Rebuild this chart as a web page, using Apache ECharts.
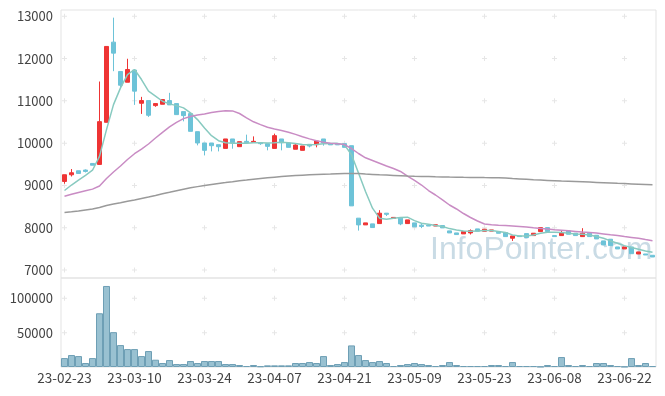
<!DOCTYPE html>
<html><head><meta charset="utf-8">
<script src="https://cdn.jsdelivr.net/npm/echarts@6/dist/echarts.min.js"></script>
<style>html,body{margin:0;padding:0;background:#fff}#c{width:665px;height:396px}</style>
</head><body><div id="c"></div>
<script>
const dates = [
'23-02-23','23-02-24','23-02-27','23-02-28',
'23-03-02','23-03-03','23-03-06','23-03-07','23-03-08','23-03-09','23-03-10','23-03-13','23-03-14','23-03-15','23-03-16','23-03-17','23-03-20','23-03-21','23-03-22','23-03-23','23-03-24','23-03-27','23-03-28','23-03-29','23-03-30','23-03-31',
'23-04-03','23-04-04','23-04-05','23-04-06','23-04-07','23-04-10','23-04-11','23-04-12','23-04-13','23-04-14','23-04-17','23-04-18','23-04-19','23-04-20','23-04-21','23-04-24','23-04-25','23-04-26','23-04-27','23-04-28',
'23-05-02','23-05-03','23-05-04','23-05-08','23-05-09','23-05-10','23-05-11','23-05-12','23-05-15','23-05-16','23-05-17','23-05-18','23-05-19','23-05-22','23-05-23','23-05-24','23-05-25','23-05-26','23-05-30','23-05-31',
'23-06-01','23-06-02','23-06-05','23-06-07','23-06-08','23-06-09','23-06-12','23-06-13','23-06-14','23-06-15','23-06-16','23-06-19','23-06-20','23-06-21','23-06-22','23-06-23','23-06-26','23-06-27','23-06-28'];

const opens = [9094,9252,9347,9364,9520,9497,10493,12389,11695,11441,11728,10943,11007,10888,10920,11007,10936,10746,10699,10272,
10004,10004,9964,9876,10099,9917,10043,10019,10011,9988,9876,10099,10003,9856,9830,9972,9964,10099,9988,9975,
9988,9940,8226,8067,8091,8098,8344,8221,8226,8098,8114,8060,8060,8040,8051,7925,7877,7854,7877,7972,
7917,7920,7893,7885,7752,7806,7861,7814,7909,8003,7814,7814,7925,7870,7790,7870,7822,7688,7728,7545,
7498,7545,7379,7379,7348];
const closes = [9253,9300,9283,9332,9478,10509,12287,12129,11370,11742,11230,11007,10659,10936,11031,10905,10675,10651,10280,10004,
9830,9940,9916,10099,10011,10035,10011,10043,9988,9924,10177,10011,9901,9956,9933,9933,10051,10003,9960,9960,
9901,8517,8067,8114,8004,8344,8317,8244,8091,8185,8020,8030,8040,8070,7996,7877,7838,7909,7932,7917,
7965,7948,7869,7790,7806,7790,7767,7870,8003,7909,7790,7885,7846,7814,7870,7790,7735,7593,7577,7498,
7545,7386,7427,7355,7308];
const lows = [9040,9212,9283,9307,9478,9497,10493,11702,11284,11441,10905,10692,10620,10860,10920,10905,10675,10516,10280,9948,
9710,9805,9805,9876,9869,9917,10011,10019,9960,9830,9876,9830,9901,9856,9830,9900,9901,9940,9960,9960,
9901,8517,7932,8067,8004,8098,8277,8221,8060,8098,8020,7990,8040,8040,7996,7877,7838,7854,7840,7917,
7917,7920,7869,7790,7688,7790,7767,7814,7909,7909,7790,7814,7846,7814,7790,7790,7735,7593,7577,7498,
7498,7386,7379,7355,7308];
const highs = [9253,9388,9347,9378,9520,11458,12287,12968,11695,11996,11728,11095,11007,10936,11031,11190,10936,10746,10699,10272,
10004,10004,9964,10099,10099,10035,10201,10160,10019,9988,10225,10099,10003,9975,9933,9972,10051,10099,9988,9980,
9988,9940,8226,8114,8091,8415,8344,8244,8226,8185,8114,8090,8060,8070,8051,7925,7877,7909,7960,7972,
7965,7948,7893,7885,7806,7806,7861,7870,8003,8003,7814,7930,7925,7870,7989,7870,7822,7688,7728,7545,
7545,7545,7427,7379,7348];
const ma5 = [8880,9010,9128,9240,9360,9687,10319,10912,11308,11623,11742,11505,11228,11110,10991,10929,10888,10834,10716,10557,
10360,10177,10059,10011,10000,9995,10000,10010,10010,10005,10010,10020,10010,9990,9970,9960,9970,9985,9990,9995,
9960,9727,9293,8857,8462,8226,8202,8226,8240,8249,8169,8107,8083,8050,8027,7979,7948,7925,7917,7925,
7932,7932,7909,7885,7830,7806,7806,7830,7869,7893,7893,7885,7869,7854,7846,7830,7790,7751,7688,7633,
7577,7530,7490,7450,7419];
const ma20 = [8745,8790,8835,8875,8913,8987,9164,9318,9460,9613,9750,9861,9980,10122,10256,10383,10490,10580,10632,10668,
10692,10723,10746,10765,10763,10701,10600,10505,10439,10377,10335,10299,10257,10207,10153,10101,10056,10020,9999,9987,
9966,9873,9755,9654,9590,9526,9460,9400,9330,9223,9117,9010,8880,8774,8660,8537,8443,8336,8242,8159,
8088,8069,8057,8050,8041,8031,8017,7998,7984,7970,7953,7941,7927,7913,7899,7887,7873,7854,7832,7814,
7792,7771,7750,7721,7693];
const ma120 = [8360,8376,8395,8419,8443,8478,8525,8561,8589,8625,8656,8691,8726,8762,8802,8838,8875,8911,8944,8972,
8998,9024,9048,9067,9088,9110,9128,9147,9164,9181,9195,9209,9221,9233,9242,9251,9259,9266,9270,9277,
9282,9285,9280,9270,9261,9251,9244,9237,9230,9223,9218,9214,9209,9204,9200,9197,9195,9192,9190,9188,
9185,9183,9181,9174,9164,9155,9145,9133,9126,9119,9112,9105,9100,9093,9086,9079,9072,9065,9058,9050,
9043,9036,9029,9022,9015];
const volumes = [13000,17400,15900,5800,13000,78200,117900,50700,31900,26100,26100,15900,23200,10600,5800,10100,4300,4300,8700,5800,
8700,8700,8700,4300,4300,2900,1400,2900,1000,2400,2400,2400,2400,5800,5800,7200,5800,15900,2900,4300,
7200,31400,17400,10100,7200,8700,5800,1400,2900,4300,5800,4300,2900,1400,2900,7200,2900,1400,1400,1400,
1400,2900,2900,1400,7200,1400,1400,1400,500,2900,1400,14500,2900,1400,2900,1400,5800,5800,2900,1400,
500,13000,2900,5800,1400];

const priceTicks = [7000,8000,9000,10000,11000,12000,13000];
const volumeTicks = [50000,100000];
const labelEvery = 10;

const UP = '#ee3434', DOWN = '#6dc3d8';
const FONT = 'Noto Sans CJK KR';

const kData = dates.map((d,i)=>[opens[i],closes[i],lows[i],highs[i]]);
const tickDates = dates.filter((d,i)=>i%labelEvery===0);
const plusPrice = [], plusVol = [];
tickDates.forEach(d=>{ priceTicks.forEach(v=>plusPrice.push([d,v])); volumeTicks.forEach(v=>plusVol.push([d,v])); });
const plusPath = 'path://M2,0H3V2H5V3H3V5H2V3H0V2H2Z';
const plain = v => String(v);

const chart = echarts.init(document.getElementById('c'), null, {renderer:'canvas'});
chart.setOption({
  animation:false,
  backgroundColor:'#fff',
  graphic:[{type:'text', left:430, top:234, z:0,
    style:{text:'InfoPointer.com', font:'32px "Liberation Sans", Arial, sans-serif', fill:'#c9dbe5'}}],
  grid:[
    {left:61, top:10, width:595, height:268, show:true, borderColor:'#e3e3e3', borderWidth:1},
    {left:61, top:278, width:595, height:89, show:true, borderColor:'#e3e3e3', borderWidth:1}
  ],
  xAxis:[
    {type:'category', gridIndex:0, data:dates, boundaryGap:true, axisLine:{show:false}, axisTick:{show:false}, axisLabel:{show:false}, splitLine:{show:false}},
    {type:'category', gridIndex:1, data:dates, boundaryGap:true, axisLine:{show:false}, axisTick:{show:false},
     axisLabel:{interval:labelEvery-1, margin:4, fontSize:13.5, color:'#444', fontFamily:FONT}, splitLine:{show:false}}
  ],
  yAxis:[
    {type:'value', gridIndex:0, min:6811, max:13149, axisLine:{show:false}, axisTick:{show:false}, splitLine:{show:false},
     axisLabel:{customValues:priceTicks, formatter:plain, fontSize:13, color:'#444', fontFamily:FONT, margin:8}},
    {type:'value', gridIndex:1, min:0, max:129500, axisLine:{show:false}, axisTick:{show:false}, splitLine:{show:false},
     axisLabel:{customValues:volumeTicks, formatter:plain, fontSize:13, color:'#444', fontFamily:FONT, margin:8}}
  ],
  series:[
    {type:'scatter', xAxisIndex:0, yAxisIndex:0, data:plusPrice, symbol:plusPath, symbolSize:5, itemStyle:{color:'#e0e0e0'}, silent:true, z:1},
    {type:'scatter', xAxisIndex:1, yAxisIndex:1, data:plusVol, symbol:plusPath, symbolSize:5, itemStyle:{color:'#e0e0e0'}, silent:true, z:1},
    {type:'candlestick', xAxisIndex:0, yAxisIndex:0, data:kData, barWidth:5,
     itemStyle:{color:UP, color0:DOWN, borderColor:UP, borderColor0:DOWN, borderWidth:1}, z:3},
    {type:'line', xAxisIndex:0, yAxisIndex:0, data:ma5, showSymbol:false, symbol:'none', lineStyle:{color:'#88cac0', width:1.5}, z:4},
    {type:'line', xAxisIndex:0, yAxisIndex:0, data:ma20, showSymbol:false, symbol:'none', lineStyle:{color:'#c98cc4', width:1.5}, z:4},
    {type:'line', xAxisIndex:0, yAxisIndex:0, data:ma120, showSymbol:false, symbol:'none', lineStyle:{color:'#9a9a9a', width:1.5}, z:4},
    {type:'bar', xAxisIndex:1, yAxisIndex:1, data:volumes, barCategoryGap:'0%',
     itemStyle:{color:'#99c1d1', borderColor:'#6e9fb5', borderWidth:1}, z:3}
  ]
});
</script></body></html>
